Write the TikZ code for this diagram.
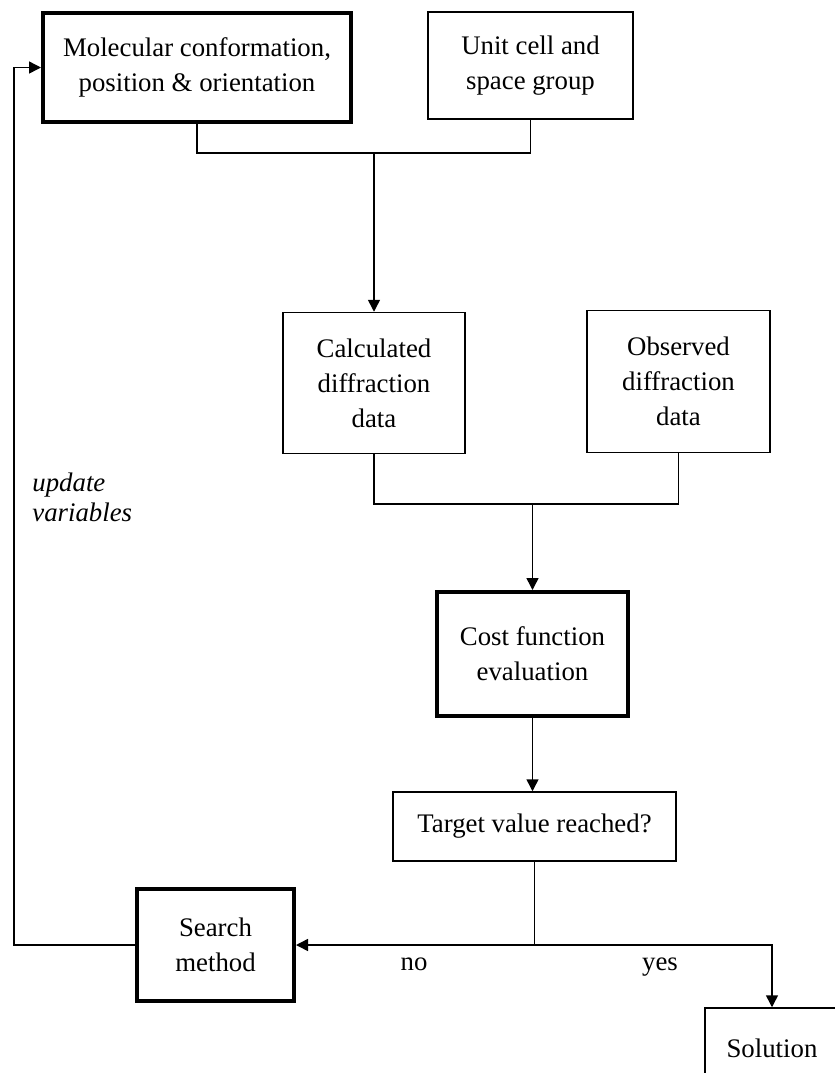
\documentclass[tikz,border=0pt]{standalone}
\usepackage{fontspec}
\setmainfont{Liberation Serif}
\usepackage{tikz}
\usetikzlibrary{arrows.meta,positioning}

\tikzset{
  stage/.style={draw,line width=0.75pt,align=center,inner sep=0pt,
    font=\fontsize{13.4}{17.5}\selectfont},
  keystage/.style={stage,line width=2pt},
  flow/.style={line width=0.75pt},
  flowarr/.style={flow,-{Triangle[length=6pt,width=6pt]}},
  tag/.style={inner sep=0pt,font=\fontsize{13.4}{15}\selectfont}
}

\begin{document}
\begin{tikzpicture}[x=0.5pt,y=-0.5pt]
  \clip (0,0) rectangle (835,1073);
  \useasboundingbox (0,0) rectangle (835,1073);

  % boxes
  \node[keystage,minimum width=154pt,minimum height=54.5pt] (mol) at (197,67.5)
    {Molecular conformation,\\position \& orientation};
  \node[stage,minimum width=102.5pt,minimum height=53.5pt] (unit) at (530.5,65.5)
    {Unit cell and\\space group};
  \node[stage,minimum width=91pt,minimum height=70.5pt] (calc) at (374,383)
    {Calculated\\diffraction\\data};
  \node[stage,minimum width=91.5pt,minimum height=71pt] (obs) at (678.5,381.5)
    {Observed\\diffraction\\data};
  \node[keystage,minimum width=95.5pt,minimum height=62pt] (cost) at (532.5,654)
    {Cost function\\evaluation};
  \node[stage,minimum width=141.5pt,minimum height=34.5pt] (target) at (534.5,826.5)
    {Target value reached?};
  \node[keystage,minimum width=78.5pt,minimum height=56pt] (search) at (215.5,945)
    {Search\\method};
  \node[stage,minimum width=67pt,minimum height=40pt] (sol) at (772,1048)
    {Solution};

  % labels
  \node[tag,anchor=west,align=left,font=\fontsize{13.4}{15}\selectfont\itshape] (upd)
    at (32,497) {update\\variables};
  \node[tag,anchor=base] (no) at (414,970) {no};
  \node[tag,anchor=base] (yes) at (660,970) {yes};

  % joins
  \coordinate (j1) at (374,153);
  \coordinate (j2) at (532.5,504);
  \coordinate (j3) at (534.5,945);
  \coordinate (lp) at (14,945);

  \draw[flow] (mol.south) |- (j1) -| (unit.south);
  \draw[flowarr] (j1) -- (calc.north);
  \draw[flow] (calc.south) |- (j2) -| (obs.south);
  \draw[flowarr] (j2) -- (cost.north);
  \draw[flowarr] (cost.south) -- (cost.south |- target.north);
  \draw[flow] (target.south) -- (j3);
  \draw[flowarr] (j3) -- (search.east);
  \draw[flowarr] (j3) -| (sol.north);
  \draw[flowarr] (search.west) -- (lp) |- (mol.west);
\end{tikzpicture}
\end{document}
